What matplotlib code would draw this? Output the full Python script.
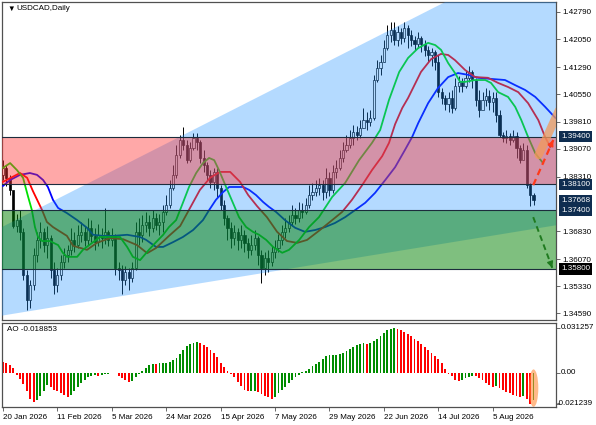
import numpy as np
import matplotlib
matplotlib.use("Agg")
import matplotlib.pyplot as plt
from matplotlib.patches import Polygon, Ellipse
from matplotlib.transforms import blended_transform_factory

plt.rcParams['font.family'] = ['Liberation Sans', 'DejaVu Sans']

# ---- candles (daily USDCAD), open = previous close ----
prev_close = 1.3836
closes = [1.3855, 1.3828, 1.3795, 1.3697, 1.3713, 1.3681, 1.3564, 1.3496, 1.3536, 1.3618,
          1.3659, 1.3681, 1.3645, 1.3664, 1.3577, 1.3536, 1.3564, 1.3599, 1.3618, 1.3632,
          1.3659, 1.3645, 1.3673, 1.3681, 1.3659, 1.3692, 1.3670, 1.3653, 1.3673, 1.3664,
          1.3681, 1.3659, 1.3670, 1.3583, 1.3577, 1.3550, 1.3572, 1.3555, 1.3583, 1.3681,
          1.3673, 1.3700, 1.3708, 1.3692, 1.3719, 1.3700, 1.3708, 1.3735, 1.3754, 1.3800,
          1.3836, 1.3890, 1.3931, 1.3917, 1.3876, 1.3909, 1.3936, 1.3925, 1.3882, 1.3863,
          1.3836, 1.3817, 1.3844, 1.3800, 1.3754, 1.3719, 1.3692, 1.3664, 1.3681, 1.3659,
          1.3673, 1.3651, 1.3632, 1.3645, 1.3664, 1.3618, 1.3583, 1.3610, 1.3599, 1.3626,
          1.3637, 1.3659, 1.3681, 1.3692, 1.3708, 1.3727, 1.3719, 1.3740, 1.3735, 1.3754,
          1.3781, 1.3789, 1.3800, 1.3808, 1.3789, 1.3828, 1.3795, 1.3844, 1.3855, 1.3882,
          1.3904, 1.3917, 1.3936, 1.3953, 1.3944, 1.3964, 1.3985, 1.3980, 1.3991, 1.4094,
          1.4127, 1.4143, 1.4181, 1.4216, 1.4230, 1.4203, 1.4225, 1.4208, 1.4235, 1.4216,
          1.4203, 1.4192, 1.4208, 1.4192, 1.4176, 1.4162, 1.4170, 1.4143, 1.4061, 1.4045,
          1.4029, 1.4045, 1.4018, 1.4078, 1.4089, 1.4078, 1.4100, 1.4116, 1.4094, 1.4040,
          1.4012, 1.4040, 1.4050, 1.4034, 1.4045, 1.3999, 1.3944, 1.3936, 1.3942, 1.3931,
          1.3942, 1.3909, 1.3876, 1.3904, 1.3808, 1.3781, 1.37668]
highs = [1.3876, 1.3863, 1.3836, 1.3789, 1.3730, 1.3740, 1.3692, 1.3577, 1.3550, 1.3637,
         1.3681, 1.3708, 1.3692, 1.3697, 1.3673, 1.3599, 1.3583, 1.3618, 1.3637, 1.3645,
         1.3692, 1.3681, 1.3700, 1.3708, 1.3697, 1.3719, 1.3713, 1.3692, 1.3702, 1.3692,
         1.3746, 1.3686, 1.3692, 1.3675, 1.3599, 1.3591, 1.3588, 1.3583, 1.3599, 1.3708,
         1.3719, 1.3727, 1.3735, 1.3727, 1.3740, 1.3732, 1.3730, 1.3754, 1.3781, 1.3822,
         1.3863, 1.3917, 1.3944, 1.3967, 1.3931, 1.3925, 1.3950, 1.3950, 1.3931, 1.3904,
         1.3871, 1.3849, 1.3855, 1.3855, 1.3808, 1.3768, 1.3727, 1.3708, 1.3700, 1.3692,
         1.3700, 1.3686, 1.3664, 1.3673, 1.3686, 1.3670, 1.3632, 1.3626, 1.3632, 1.3643,
         1.3659, 1.3675, 1.3700, 1.3719, 1.3727, 1.3754, 1.3746, 1.3762, 1.3760, 1.3773,
         1.3808, 1.3814, 1.3822, 1.3828, 1.3822, 1.3855, 1.3844, 1.3863, 1.3876, 1.3904,
         1.3925, 1.3944, 1.3958, 1.3972, 1.3969, 1.3985, 1.4018, 1.4007, 1.4012, 1.4108,
         1.4148, 1.4162, 1.4203, 1.4244, 1.4252, 1.4252, 1.4241, 1.4235, 1.4252, 1.4244,
         1.4230, 1.4214, 1.4225, 1.4214, 1.4203, 1.4186, 1.4181, 1.4176, 1.4162, 1.4072,
         1.4053, 1.4061, 1.4067, 1.4100, 1.4105, 1.4100, 1.4121, 1.4132, 1.4121, 1.4100,
         1.4067, 1.4061, 1.4072, 1.4067, 1.4061, 1.4061, 1.4012, 1.3953, 1.3958, 1.3950,
         1.3958, 1.3953, 1.3917, 1.3923, 1.3917, 1.3814, 1.3787]
lows = [1.3822, 1.3806, 1.3781, 1.3692, 1.3681, 1.3659, 1.3550, 1.3468, 1.3474, 1.3523,
        1.3599, 1.3637, 1.3626, 1.3610, 1.3555, 1.3512, 1.3517, 1.3550, 1.3583, 1.3599,
        1.3618, 1.3626, 1.3637, 1.3653, 1.3643, 1.3645, 1.3653, 1.3632, 1.3643, 1.3637,
        1.3648, 1.3643, 1.3643, 1.3564, 1.3550, 1.3512, 1.3536, 1.3523, 1.3545, 1.3577,
        1.3645, 1.3653, 1.3681, 1.3670, 1.3681, 1.3686, 1.3673, 1.3681, 1.3727, 1.3746,
        1.3795, 1.3828, 1.3882, 1.3904, 1.3868, 1.3871, 1.3904, 1.3904, 1.3868, 1.3844,
        1.3822, 1.3800, 1.3795, 1.3773, 1.3740, 1.3700, 1.3659, 1.3637, 1.3645, 1.3632,
        1.3637, 1.3626, 1.3610, 1.3618, 1.3632, 1.3591, 1.3542, 1.3564, 1.3572, 1.3588,
        1.3610, 1.3626, 1.3645, 1.3664, 1.3681, 1.3697, 1.3702, 1.3708, 1.3719, 1.3730,
        1.3746, 1.3768, 1.3778, 1.3781, 1.3768, 1.3773, 1.3778, 1.3787, 1.3828, 1.3849,
        1.3871, 1.3898, 1.3909, 1.3917, 1.3931, 1.3936, 1.3964, 1.3958, 1.3969, 1.3985,
        1.4089, 1.4108, 1.4143, 1.4176, 1.4197, 1.4189, 1.4186, 1.4192, 1.4197, 1.4181,
        1.4186, 1.4176, 1.4181, 1.4170, 1.4159, 1.4143, 1.4132, 1.4121, 1.4048, 1.4029,
        1.4012, 1.4007, 1.4004, 1.4012, 1.4061, 1.4061, 1.4072, 1.4089, 1.4072, 1.4023,
        1.3993, 1.4018, 1.4023, 1.4012, 1.4007, 1.3980, 1.3939, 1.3925, 1.3923, 1.3917,
        1.3925, 1.3882, 1.3868, 1.3882, 1.3800, 1.3751, 1.3754]

# ---- Alligator lines (x in bars) ----
lips_x = [0, 2.1, 4.1, 5.9, 7.4, 8.5, 9.4, 10.3, 11.5, 13.8, 16.2, 17.6, 18.8, 21.8, 23.5,
          26.5, 28.5, 31.5, 34.4, 36.5, 38.2, 40.3, 42.9, 45.0, 47.1, 48.8, 50.9, 52.9, 54.7,
          56.8, 58.8, 60.6, 62.1, 63.5, 65.6, 67.6, 69.4, 71.5, 73.5, 75.3, 77.4, 79.4, 82.1,
          84.1, 87.1, 90.0, 92.9, 96.8, 100.6, 104.7, 108.5, 110.9, 113.5, 116.5, 119.1,
          122.1, 125.0, 127.1, 128.8, 130.9, 132.9, 134.4, 135.9, 138.8, 141.8, 143.5, 145.6,
          148.5, 150.6, 152.4, 154.4, 156.5, 158.8]
lips_y = [1.3855, 1.3868, 1.3849, 1.3828, 1.3776, 1.3740, 1.3694, 1.3667, 1.3656, 1.3656,
          1.3645, 1.3624, 1.3613, 1.3613, 1.3632, 1.3653, 1.3667, 1.3667, 1.3667, 1.3640,
          1.3613, 1.3604, 1.3632, 1.3653, 1.3673, 1.3694, 1.3713, 1.3760, 1.3803, 1.3841,
          1.3868, 1.3882, 1.3876, 1.3849, 1.3803, 1.3760, 1.3721, 1.3694, 1.3681, 1.3673,
          1.3659, 1.3640, 1.3624, 1.3632, 1.3659, 1.3694, 1.3721, 1.3776, 1.3814, 1.3876,
          1.3923, 1.3958, 1.4040, 1.4116, 1.4154, 1.4181, 1.4195, 1.4189, 1.4176, 1.4140,
          1.4113, 1.4089, 1.4089, 1.4094, 1.4094, 1.4086, 1.4061, 1.4048, 1.4021, 1.3985,
          1.3939, 1.3895, 1.3868]
teeth_x = [0, 5.0, 7.1, 8.8, 11.5, 12.9, 14.7, 18.8, 20.6, 24.7, 27.6, 31.5, 35.3, 39.4,
           42.4, 45.0, 48.8, 52.1, 55.0, 57.9, 60.9, 63.8, 66.8, 69.7, 72.1, 74.7, 77.6,
           80.6, 83.5, 86.5, 89.4, 93.2, 96.8, 99.7, 102.6, 105.6, 108.5, 111.5, 113.5,
           115.3, 117.4, 119.1, 122.9, 125.9, 128.8, 130.9, 132.9, 135.9, 138.8, 142.6,
           145.6, 148.5, 151.5, 154.4, 157.4, 159.4, 160.9]
teeth_y = [1.3817, 1.3841, 1.3828, 1.3792, 1.3740, 1.3708, 1.3694, 1.3670, 1.3643, 1.3632,
           1.3651, 1.3664, 1.3661, 1.3645, 1.3623, 1.3637, 1.3670, 1.3697, 1.3746, 1.3795,
           1.3828, 1.3844, 1.3844, 1.3817, 1.3781, 1.3751, 1.3721, 1.3681, 1.3656, 1.3651,
           1.3659, 1.3686, 1.3713, 1.3735, 1.3768, 1.3808, 1.3849, 1.3887, 1.3923, 1.3974,
           1.4018, 1.4045, 1.4116, 1.4151, 1.4165, 1.4162, 1.4148, 1.4121, 1.4102, 1.4100,
           1.4086, 1.4075, 1.4061, 1.4031, 1.3985, 1.3939, 1.3912]
jaw_x = [0, 2.1, 5.0, 7.9, 10.0, 11.8, 13.2, 14.7, 16.2, 18.8, 21.8, 24.7, 26.5, 29.4, 32.4,
         36.5, 40.3, 42.1, 45.0, 47.1, 50.0, 52.9, 55.9, 58.8, 60.6, 62.6, 64.7, 66.5, 68.5,
         70.6, 72.4, 74.4, 76.5, 78.2, 80.3, 82.9, 85.9, 88.8, 91.8, 94.7, 97.6, 100.6,
         103.5, 106.5, 109.4, 112.4, 115.3, 118.2, 120.3, 122.1, 125.0, 127.9, 130.9, 133.8,
         136.8, 139.7, 143.5, 147.6, 150.6, 153.5, 156.5, 159.4, 162.4]
jaw_y = [1.3806, 1.3822, 1.3836, 1.3841, 1.3836, 1.3822, 1.3803, 1.3768, 1.3746, 1.3732,
         1.3713, 1.3692, 1.3673, 1.3670, 1.3670, 1.3673, 1.3667, 1.3659, 1.3640, 1.3640,
         1.3653, 1.3667, 1.3686, 1.3713, 1.3740, 1.3768, 1.3789, 1.3803, 1.3803, 1.3803,
         1.3795, 1.3781, 1.3762, 1.3749, 1.3735, 1.3713, 1.3692, 1.3681, 1.3686, 1.3694,
         1.3705, 1.3721, 1.3740, 1.3760, 1.3787, 1.3822, 1.3857, 1.3904, 1.3939, 1.3977,
         1.4031, 1.4072, 1.4102, 1.4113, 1.4108, 1.4100, 1.4097, 1.4094, 1.4080, 1.4067,
         1.4048, 1.4021, 1.3991]

# ---- Awesome Oscillator ----
ao = [0.0077, 0.0072, 0.0053, 0.0036, -0.0012, -0.0043, -0.0079, -0.0127, -0.0180, -0.0199,
      -0.0190, -0.0163, -0.0127, -0.0084, -0.0098, -0.0115, -0.0127, -0.0142, -0.0156, -0.0170,
      -0.0156, -0.0122, -0.0094, -0.0067, -0.0048, -0.0031, -0.0022, -0.0014, -0.0019, -0.0012,
      -0.0007, -0.0005, -0.0002, 0.0002, -0.0019, -0.0036, -0.0050, -0.0062, -0.0055, -0.0031,
      -0.0007, 0.0017, 0.0036, 0.0053, 0.0062, 0.0060, 0.0067, 0.0070, 0.0072, 0.0077,
      0.0089, 0.0106, 0.0132, 0.0161, 0.0185, 0.0199, 0.0209, 0.0214, 0.0209, 0.0197,
      0.0180, 0.0161, 0.0137, 0.0108, 0.0072, 0.0041, 0.0017, -0.0007, -0.0031, -0.0060,
      -0.0091, -0.0115, -0.0127, -0.0125, -0.0122, -0.0132, -0.0146, -0.0158, -0.0170, -0.0180,
      -0.0166, -0.0142, -0.0118, -0.0094, -0.0070, -0.0048, -0.0029, -0.0014, 0.0007, 0.0016,
      0.0031, 0.0047, 0.0063, 0.0078, 0.0094, 0.0118, 0.0123, 0.0125, 0.0127, 0.0129,
      0.0141, 0.0153, 0.0169, 0.0183, 0.0193, 0.0202, 0.0207, 0.0202, 0.0207, 0.0219,
      0.0235, 0.0254, 0.0277, 0.0295, 0.0305, 0.031257, 0.0308, 0.0301, 0.0287, 0.0270,
      0.0254, 0.0235, 0.0219, 0.0200, 0.0181, 0.0160, 0.0141, 0.0118, 0.0094, 0.0066,
      0.0028, -0.0005, -0.0024, -0.0047, -0.0054, -0.0047, -0.0035, -0.0028, -0.0020, -0.0024,
      -0.0035, -0.0047, -0.0066, -0.0085, -0.0094, -0.0092, -0.0106, -0.0118, -0.0129, -0.0141,
      -0.0153, -0.0157, -0.0165, -0.0160, -0.0180, -0.021239, -0.018853]

date_labels = ['20 Jan 2026', '11 Feb 2026', '5 Mar 2026', '24 Mar 2026', '15 Apr 2026',
               '7 May 2026', '29 May 2026', '22 Jun 2026', '14 Jul 2026', '5 Aug 2026']
date_bars = [0, 16, 32, 48, 64, 80, 96, 112, 128, 144]

price_ticks = [1.42790, 1.42050, 1.41290, 1.40550, 1.39810, 1.39070, 1.38310,
               1.36830, 1.36070, 1.35330, 1.34590]
ao_ticks = [0.031257, 0.0, -0.021239]
ao_tick_labels = ['0.031257', '0.00', '-0.021239']
sell_zone = (1.381, 1.394)
buy_zone = (1.358, 1.374)
level_lines = [1.394, 1.381, 1.374, 1.358]
marked_prices = [1.39400, 1.38100, 1.37668, 1.37400, 1.35800]
marked_colors = ['#0f2d50', '#0f2d50', '#0f2d50', '#0f2d50', '#000000']

# channel (wedge) edges and forecast arrows, in bar / price coordinates
wedge_x = [-5, 170, 170, -5]
wedge_y = [1.3672, 1.4494, 1.3710, 1.3446]
up_arrow = ((155.9, 1.3808), (161.8, 1.3931))
down_arrow = ((155.9, 1.3721), (161.5, 1.3583))
band = ((157.5, 1.3890), (163.5, 1.4012))

# ---------------------------------------------------------------
W, H = 596, 425
fig = plt.figure(figsize=(W / 100, H / 100), dpi=100)
ax = fig.add_axes([2 / W, 1 - 320 / H, 554 / W, 318 / H])
ax2 = fig.add_axes([2 / W, 1 - 407 / H, 554 / W, 84 / H])

n = len(closes)
x = np.arange(n)
c = np.array(closes)
o = np.concatenate([[prev_close], c[:-1]])
bull = c >= o

ax.vlines(x, lows, highs, color='black', lw=0.7, zorder=2)
ax.bar(x, np.maximum(np.abs(c - o), 0.00008), bottom=np.minimum(o, c), width=0.62,
       color=np.where(bull, 'white', 'black'), edgecolor='black', lw=0.5, zorder=3)

ax.plot(jaw_x, jaw_y, color='#0000ff', lw=1.3, zorder=4)
ax.plot(teeth_x, teeth_y, color='#ff0000', lw=1.3, zorder=4)
ax.plot(lips_x, lips_y, color='#00e000', lw=1.3, zorder=4)

# overlays
ax.add_patch(Polygon(list(zip(wedge_x, wedge_y)), closed=True, fc='#1e90ff',
                     alpha=0.33, lw=0, zorder=5))
ax.axhspan(*sell_zone, color='#ff3030', alpha=0.42, lw=0, zorder=5)
ax.axhspan(*buy_zone, color='#008000', alpha=0.5, lw=0, zorder=5)
for lv in level_lines:
    ax.axhline(lv, color='#1c2c3c', lw=0.8, zorder=6)

# forecast arrows
ax.plot(*zip(*band), color='#f39a5a', lw=6, alpha=0.75, solid_capstyle='round', zorder=7)
(x0, y0), (x1, y1) = up_arrow
ax.plot([x0, x1], [y0, y1], color='#ff3a1a', lw=1.6, ls=(0, (3, 2)), zorder=8)
ax.annotate('', xy=(x1, y1), xytext=(x1 - 0.6, y1 - 0.0012),
            arrowprops=dict(arrowstyle='-|>', color='#ff3a1a', lw=1, mutation_scale=9), zorder=8)
(x0, y0), (x1, y1) = down_arrow
ax.plot([x0, x1], [y0, y1], color='#1f7a1f', lw=1.4, ls=(0, (3, 2)), zorder=8)
ax.annotate('', xy=(x1, y1), xytext=(x1 - 0.5, y1 + 0.0013),
            arrowprops=dict(arrowstyle='-|>', color='#1f7a1f', lw=1, mutation_scale=9), zorder=8)

ax.set_xlim(-0.29, 162.6)
ax.set_ylim(1.34412, 1.43062)
ax.set_xticks([])
ax.yaxis.tick_right()
ax.set_yticks(price_ticks)
ax.set_yticklabels([f'{v:.5f}' for v in price_ticks])
ax.tick_params(axis='y', length=3, width=0.6, color='#505050', pad=1.5, labelsize=5.8)

tr = blended_transform_factory(ax.transAxes, ax.transData)
for p, col in zip(marked_prices, marked_colors):
    ax.text(1 + 5 / 554, p, f'{p:.5f}', transform=tr, fontsize=5.8, color='white',
            ha='left', va='center', clip_on=False, zorder=10,
            bbox=dict(boxstyle='square,pad=0.28', fc=col, ec='none'))

ax.text(5 / 554, 1 - 7 / 318, '\u25bc', transform=ax.transAxes, fontsize=5.5,
        ha='left', va='center', zorder=10)
ax.text(14 / 554, 1 - 7 / 318, 'USDCAD,Daily', transform=ax.transAxes, fontsize=5.8,
        ha='left', va='center', zorder=10)

# AO panel
ao = np.array(ao)
ao_cols = ['#ff0000'] + ['#008c00' if ao[i] > ao[i - 1] else '#ff0000' for i in range(1, len(ao))]
ax2.bar(np.arange(len(ao)), ao, width=0.55, color=ao_cols, lw=0, zorder=2)
ax2.add_patch(Ellipse((n - 1, -0.0105), 2.8, 0.026, fc='#ff8c3a', alpha=0.6, lw=0, zorder=3))
ax2.set_xlim(-0.29, 162.6)
ax2.set_ylim(-0.0236, 0.0347)
ax2.yaxis.tick_right()
ax2.set_yticks(ao_ticks)
ax2.set_yticklabels([])
ax2.tick_params(axis='y', length=3, width=0.6, color='#505050')
tr2 = blended_transform_factory(ax2.transAxes, ax2.transData)
for v, lab in zip(ao_ticks, ao_tick_labels):
    off = 1 / 554 if lab.startswith('-') else 5 / 554
    ax2.text(1 + off, v, lab, transform=tr2, fontsize=5.8, ha='left', va='center',
             clip_on=False)
ax2.set_xticks(date_bars)
ax2.set_xticklabels(date_labels)
for lbl in ax2.get_xticklabels():
    lbl.set_ha('left')
ax2.tick_params(axis='x', length=3, width=0.6, color='#505050', pad=2, labelsize=5.8)
ax2.text(5 / 554, 0.92, 'AO -0.018853', transform=ax2.transAxes, fontsize=5.8,
         ha='left', va='center')

for a in (ax, ax2):
    for s in a.spines.values():
        s.set_color('#505050')
        s.set_linewidth(0.9)

fig.savefig('out.png', dpi=100)
